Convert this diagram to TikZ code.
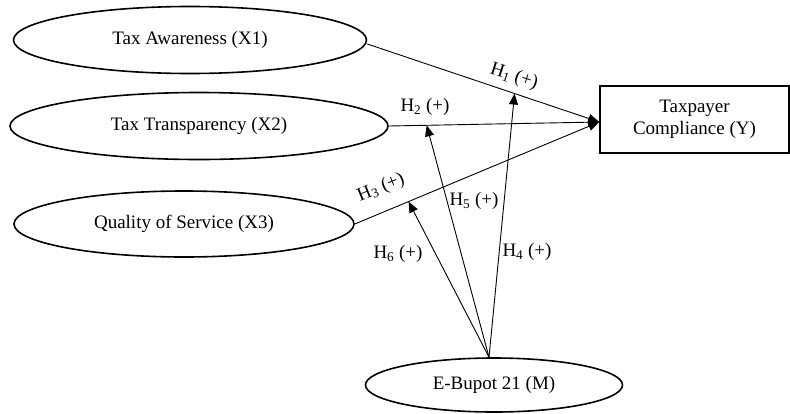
\documentclass[tikz,border=0pt]{standalone}
\usepackage{fontspec}
\setmainfont{Liberation Serif}
\usetikzlibrary{shapes.geometric,arrows.meta,calc}
\begin{document}
\begin{tikzpicture}[x=1pt,y=-1pt,
  every node/.style={font=\fontsize{19}{22}\selectfont},
  var/.style={ellipse,draw,line width=1.6pt,inner sep=0pt},
  dep/.style={rectangle,draw,line width=1.6pt,align=center,minimum width=189pt,minimum height=67pt,inner sep=0pt},
  arr/.style={line width=0.9pt,-{Triangle[length=11pt,width=9pt]}},
  hyp/.style={inner sep=1pt}]
\useasboundingbox (0,0) rectangle (790,413);
\node[var,minimum width=353pt,minimum height=67pt] (x1) at (190,40) {Tax Awareness (X1)};
\node[var,minimum width=378pt,minimum height=67pt] (x2) at (199,126) {Tax Transparency (X2)};
\node[var,minimum width=340pt,minimum height=66pt] (x3) at (184,224) {Quality of Service (X3)};
\node[var,minimum width=257pt,minimum height=54pt] (m) at (494,385) {E-Bupot 21 (M)};
\node[dep] (ty) at (694.5,119.5) {Taxpayer\\Compliance (Y)};
\coordinate (tip) at ([yshift=-2.5pt]ty.west);
\coordinate (src) at ([xshift=-5pt]m.north);
\coordinate (s1) at ([yshift=-4pt]x1.east);
\draw[arr] (s1) -- (tip);
\draw[arr] (x2.east) -- (tip);
\draw[arr] (x3.east) -- (tip);
\coordinate (h4) at ($(s1)!0.635!(tip)$);
\coordinate (h5) at ($(x2.east)!0.18!(tip)$);
\coordinate (h6) at ($(x3.east)!0.22!(tip)$);
\draw[arr] (src) -- (h4);
\draw[arr] (src) -- (h5);
\draw[arr] (src) -- (h6);
\node[hyp,rotate=-18] (l1) at (514,77) {H\textsubscript{1} (+)};
\node[hyp] (l2) at (425,107) {H\textsubscript{2} (+)};
\node[hyp,rotate=22] (l3) at (381,188) {H\textsubscript{3} (+)};
\node[hyp] (l4) at (527,252) {H\textsubscript{4} (+)};
\node[hyp] (l5) at (474,201) {H\textsubscript{5} (+)};
\node[hyp] (l6) at (398,254) {H\textsubscript{6} (+)};
\end{tikzpicture}
\end{document}
